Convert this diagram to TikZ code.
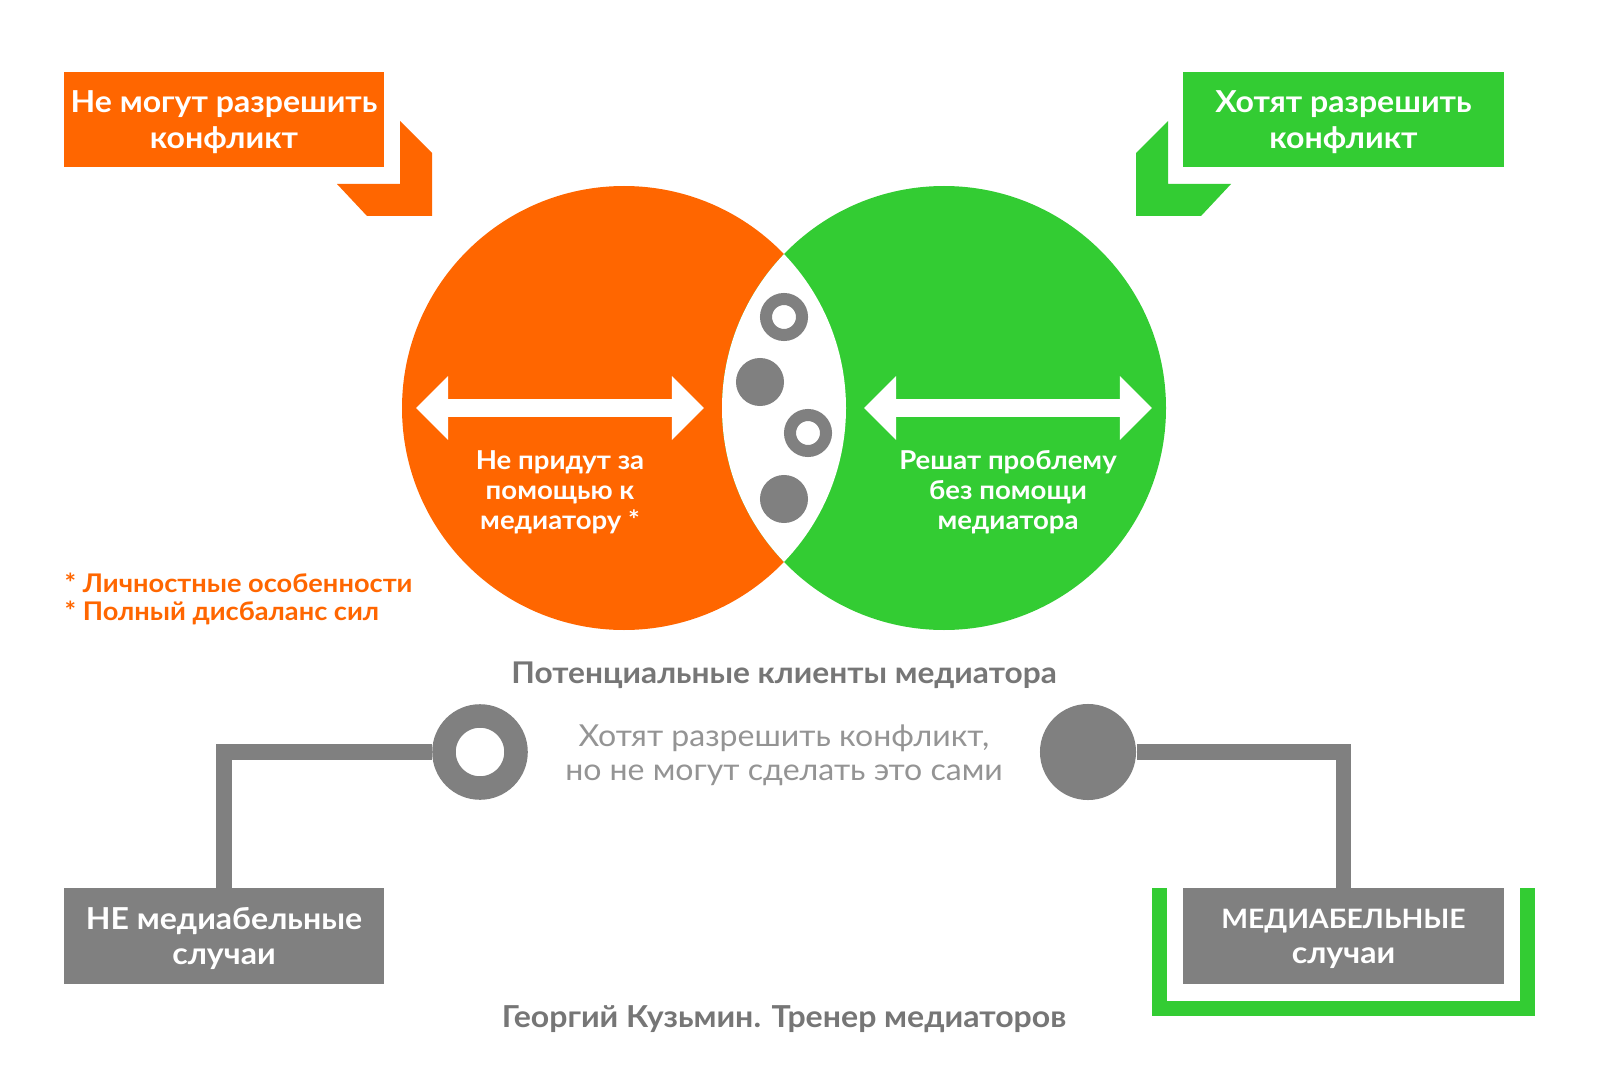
\documentclass[tikz,border=0pt]{standalone}
\usepackage{fontspec}
\setmainfont{Lato}[FakeStretch=1.06]
\usetikzlibrary{arrows.meta,positioning}

\definecolor{mango}{RGB}{255,102,0}
\definecolor{fern}{RGB}{51,204,51}
\definecolor{slate}{RGB}{128,128,128}
\definecolor{inkgray}{RGB}{118,118,118}
\definecolor{softgray}{RGB}{148,148,148}

\begin{document}
\begin{tikzpicture}[x=0.01cm, y=-0.01cm,
  tag/.style={rectangle, fill=#1, text=white, minimum width=3.2cm, minimum height=0.95cm, inner sep=0pt, outer sep=0pt, text depth=0pt, align=center, font=\fontsize{8.6}{10}\selectfont\bfseries},
  circtext/.style={text=white, align=center, font=\fontsize{7.4}{8.5}\selectfont\bfseries},
  dbl/.style={white, line width=0.18cm, {Triangle[width=0.62cm,length=0.32cm]}-{Triangle[width=0.62cm,length=0.32cm]}},
  ring/.style={circle, draw=slate, fill=white, inner sep=0pt},
  blob/.style={circle, fill=slate, inner sep=0pt},
  link/.style={slate, line width=0.155cm},
  note/.style={text=mango, align=left, inner sep=0pt, font=\fontsize{7.3}{7.7}\selectfont\bfseries}
]
\fill[white] (0,0) rectangle (1600,1088);
\useasboundingbox (0,0) rectangle (1600,1088);

% two circles and the white lens
\fill[mango] (624,408) circle (222);
\fill[fern] (944,408) circle (222);
\begin{scope}
  \clip (624,408) circle (222);
  \fill[white] (944,408) circle (222);
\end{scope}

% top labels with their corner marks
\node[tag=mango] (cant) at (224,119.5) {Не могут разрешить\\конфликт};
\node[tag=fern] (want) at (1343.5,119.5) {Хотят разрешить\\конфликт};
\fill[mango] (400,121) -- (432,153) -- (432,216) -- (367,216) -- (337,184) -- (400,184) -- cycle;
\fill[fern] (1168,121) -- (1136,153) -- (1136,216) -- (1201,216) -- (1231,184) -- (1168,184) -- cycle;

% arrows and texts inside the circles
\coordinate (ol) at (416,408); \coordinate (or) at (704,408);
\coordinate (gl) at (864,408); \coordinate (gr) at (1152,408);
\draw[dbl] (ol) -- (or);
\draw[dbl] (gl) -- (gr);
\node[circtext] (nocome) at (560,492) {Не придут за\\помощью к\\медиатору *};
\node[circtext] (alone) at (1008,492) {Решат проблему\\без помощи\\медиатора};

% marks in the lens
\node[ring, minimum size=0.36cm, line width=0.12cm] (r1) at (784,317) {};
\node[blob, minimum size=0.48cm] (d1) at (760,382) {};
\node[ring, minimum size=0.36cm, line width=0.12cm] (r2) at (808,433) {};
\node[blob, minimum size=0.48cm] (d2) at (784,499) {};

\node[note, anchor=west] (why) at (64,599) {* Личностные особенности\\* Полный дисбаланс сил};

\node[text=inkgray, font=\fontsize{8.5}{9}\selectfont\bfseries] (pot) at (784,675) {Потенциальные клиенты медиатора};
\node[text=softgray, align=center, font=\fontsize{8.6}{9.7}\selectfont] (mid) at (784,755) {Хотят разрешить конфликт,\\но не могут сделать это сами};

% bottom legend
\node[ring, minimum size=0.72cm, line width=0.235cm] (hollow) at (480,752) {};
\node[blob, minimum size=0.96cm] (solid) at (1088,752) {};
\node[tag=slate, below=7.21cm of cant] (nemed) {НЕ медиабельные\\случаи};
\node[tag=slate, below=7.21cm of want, font=\fontsize{7.6}{10}\selectfont\bfseries] (med) {МЕДИАБЕЛЬНЫЕ\\{\fontsize{8.6}{10}\selectfont случаи}};
\draw[link] (hollow.west) -| (nemed.north);
\draw[link] (solid.east) -| (med.north);
\draw[fern, line width=0.15cm] ([xshift=-0.24cm]med.north west) |- ([yshift=-0.25cm]med.south) -| ([xshift=0.24cm]med.north east);

\node[text=inkgray, font=\fontsize{8.6}{9}\selectfont\bfseries] (author) at (784,1019) {Георгий Кузьмин. Тренер медиаторов};
\end{tikzpicture}
\end{document}
